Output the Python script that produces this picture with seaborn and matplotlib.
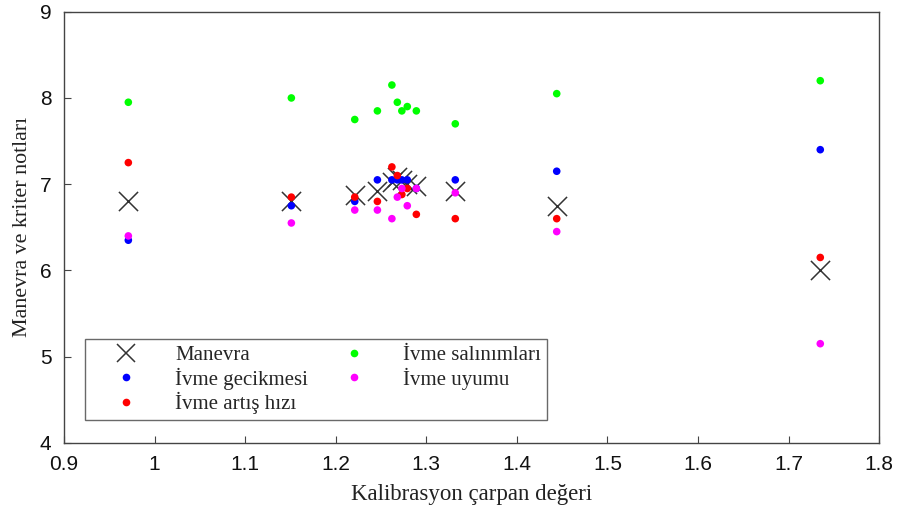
import numpy as np
import pandas as pd
import seaborn as sns
import matplotlib
matplotlib.use("Agg")
import matplotlib.pyplot as plt
from matplotlib.lines import Line2D

# Calibration multiplier values
carpan = [0.971, 1.151, 1.221, 1.246, 1.262, 1.268, 1.273, 1.279, 1.289, 1.332, 1.444, 1.735]

# Scores per series
manevra = [6.80, 6.80, 6.87, 6.92, 7.03, 7.08, 7.05, 7.00, 6.98, 6.92, 6.75, 6.00]
ivme_gecikmesi = [6.35, 6.75, 6.80, 7.05, 7.05, 7.05, 7.05, 7.05, 6.95, 7.05, 7.15, 7.40]
ivme_artis_hizi = [7.25, 6.85, 6.85, 6.80, 7.20, 7.10, 6.88, 6.95, 6.65, 6.60, 6.60, 6.15]
ivme_salinimlari = [7.95, 8.00, 7.75, 7.85, 8.15, 7.95, 7.85, 7.90, 7.85, 7.70, 8.05, 8.20]
ivme_uyumu = [6.40, 6.55, 6.70, 6.70, 6.60, 6.85, 6.95, 6.75, 6.95, 6.90, 6.45, 5.15]

x_ticks = [0.9, 1.0, 1.1, 1.2, 1.3, 1.4, 1.5, 1.6, 1.7, 1.8]
x_tick_labels = ["0.9", "1", "1.1", "1.2", "1.3", "1.4", "1.5", "1.6", "1.7", "1.8"]
y_ticks = [4, 5, 6, 7, 8, 9]

sns.set_theme(style="white")
plt.rcParams["font.family"] = ["Liberation Sans", "DejaVu Sans"]

fig = plt.figure(figsize=(8.98, 5.21), dpi=100)
ax = fig.add_axes([0.0713, 0.150, 0.9077, 0.8275])

series = [
    ("İvme gecikmesi", ivme_gecikmesi, "#0000ff"),
    ("İvme artış hızı", ivme_artis_hizi, "#ff0000"),
    ("İvme salınımları", ivme_salinimlari, "#00ff00"),
    ("İvme uyumu", ivme_uyumu, "#ff00ff"),
]

sns.scatterplot(x=carpan, y=manevra, marker="x", s=190, color="#333333",
                linewidth=1.1, ax=ax, legend=False, zorder=2)
for name, vals, col in series:
    sns.scatterplot(x=carpan, y=vals, marker="o", s=30, color=col,
                    edgecolor="none", ax=ax, legend=False, zorder=3)

ax.set_xlim(0.9, 1.8)
ax.set_ylim(4, 9)
ax.set_xticks(x_ticks)
ax.set_xticklabels(x_tick_labels)
ax.set_yticks(y_ticks)
ax.tick_params(axis="both", which="both", direction="in", length=5, width=0.8,
               color="#444444", labelsize=15, labelcolor="#111111",
               bottom=True, left=True, top=False, right=False)
ax.tick_params(axis="x", pad=9)
ax.tick_params(axis="y", pad=9)
for sp in ax.spines.values():
    sp.set_color("#444444")
    sp.set_linewidth(1.0)

serif = ["Liberation Serif", "DejaVu Serif"]
ax.set_xlabel("Kalibrasyon çarpan değeri", family=serif, fontsize=16.5, color="#222222", labelpad=7)
ax.set_ylabel("Manevra ve kriter notları", family=serif, fontsize=15.8, color="#222222", labelpad=6)

handles = [Line2D([], [], marker="x", linestyle="none", color="#333333",
                  markersize=13, markeredgewidth=1.1, label="Manevra")]
for name, vals, col in series:
    handles.append(Line2D([], [], marker="o", linestyle="none", color=col,
                          markersize=5.5, markeredgewidth=0, label=name))

leg = ax.legend(handles=handles, ncol=2, loc="lower left",
                bbox_to_anchor=(0.0258, 0.053), borderaxespad=0, frameon=True, fancybox=False,
                prop={"family": serif, "size": 15}, handletextpad=0.65,
                columnspacing=0.5, borderpad=0.28, labelspacing=0.12,
                handlelength=3.4)
leg.get_frame().set_edgecolor("#444444")
leg.get_frame().set_linewidth(1.0)

fig.savefig("out.png", dpi=100)
